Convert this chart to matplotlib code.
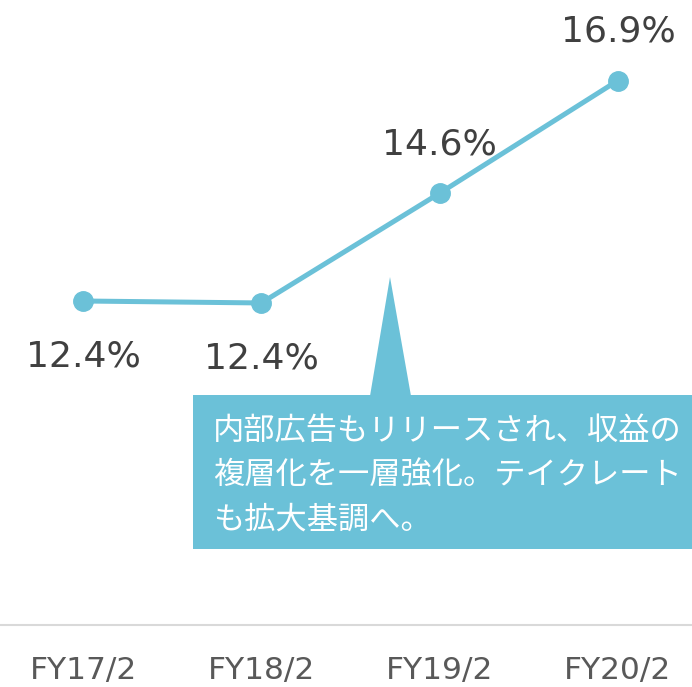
import matplotlib
matplotlib.use("Agg")
import matplotlib.pyplot as plt
from matplotlib.patches import Polygon, Rectangle

categories = ["FY17/2", "FY18/2", "FY19/2", "FY20/2"]
values = [12.4, 12.36, 14.6, 16.9]
labels = ["12.4%", "12.4%", "14.6%", "16.9%"]
label_below = [True, True, False, False]
callout_lines = ["内部広告もリリースされ、収益の",
                 "複層化を一層強化。テイクレート",
                 "も拡大基調へ。"]

W, H = 692, 687
fig = plt.figure(figsize=(W / 100, H / 100), dpi=100)
axis_px = 625
ax = fig.add_axes([0, (H - axis_px) / H, 1, axis_px / H])

color = "#6BC1D8"
ax.plot(range(len(values)), values, color=color, lw=3.6, marker="o",
        markersize=14, solid_capstyle="round", zorder=3)

ax.set_xlim(-0.4655, 3.4155)
ax.set_ylim(12.4 - (axis_px - 301) / 49, 12.4 + 301 / 49)

for i, (v, lab, below) in enumerate(zip(values, labels, label_below)):
    off = -40 if below else 35
    ax.annotate(lab, (i, v), xytext=(0, off), textcoords="offset points",
                ha="center", va="center", fontsize=26, color="#404040",
                family="DejaVu Sans")

ax.set_xticks(range(len(categories)))
ax.set_xticklabels(categories, fontsize=22.5, color="#595959", family="DejaVu Sans")
ax.tick_params(axis="x", length=0, pad=22)
ax.set_yticks([])
for s in ["top", "left", "right"]:
    ax.spines[s].set_visible(False)
ax.spines["bottom"].set_color("#D9D9D9")
ax.spines["bottom"].set_linewidth(1.5)

# callout box (figure pixel coords -> figure fraction)
def fx(px):
    return px / W

def fy(py):
    return 1 - py / H

box = Rectangle((fx(193), fy(549)), fx(700) - fx(193), fy(395) - fy(549),
                transform=fig.transFigure, facecolor=color, edgecolor="none",
                zorder=5)
fig.add_artist(box)
tri = Polygon([(fx(390), fy(277)), (fx(370), fy(396)), (fx(411), fy(396))],
              closed=True, transform=fig.transFigure, facecolor=color,
              edgecolor="none", zorder=5)
fig.add_artist(tri)

for k, line in enumerate(callout_lines):
    fig.text(fx(213), fy(431 + 44.5 * k), line, transform=fig.transFigure,
             ha="left", va="center", fontsize=22.5, color="white",
             family=["Noto Sans CJK JP", "DejaVu Sans"], zorder=6)

fig.savefig("out.png", dpi=100)
